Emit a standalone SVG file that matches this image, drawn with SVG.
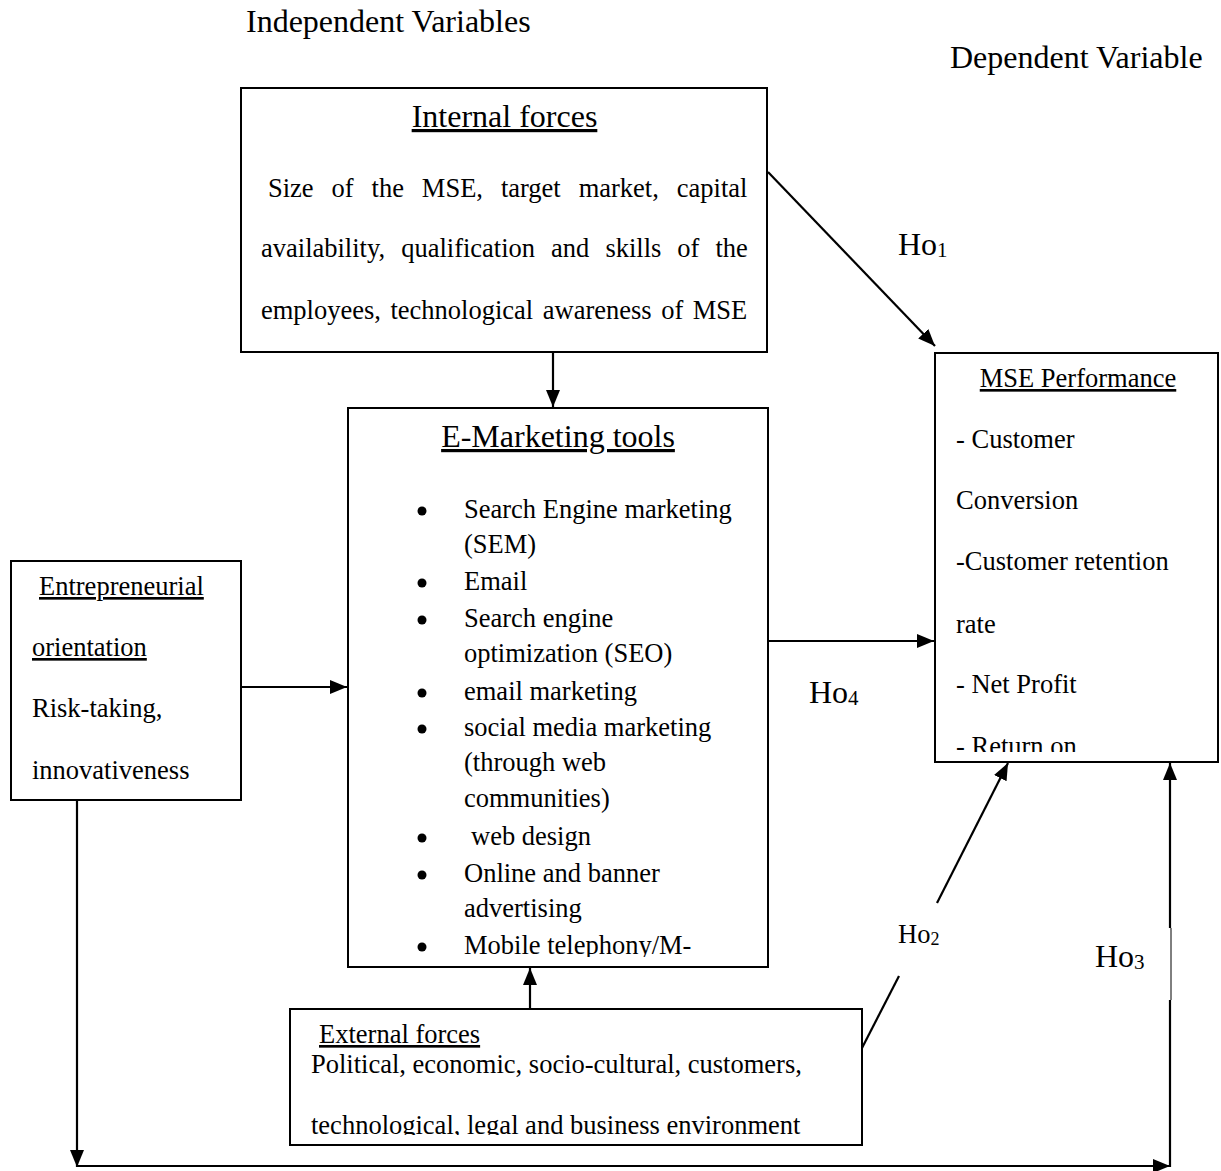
<svg xmlns="http://www.w3.org/2000/svg" width="1221" height="1171" viewBox="0 0 1221 1171">
<style>
text{font-family:"Liberation Serif","Times New Roman",serif;fill:#000}
.h{font-size:32px}
.b{font-size:26.5px}
.u{text-decoration:underline}
.box{fill:#fff;stroke:#000;stroke-width:2}
.con{fill:none;stroke:#000;stroke-width:2.2}
.sub{font-size:21px}
</style>
<defs>
<marker id="ah" markerWidth="18" markerHeight="16" refX="17" refY="8" orient="auto" markerUnits="userSpaceOnUse"><path d="M0,1 L17,8 L0,15 z" fill="#000"/></marker>
<clipPath id="cE"><rect x="349" y="409" width="418" height="548"/></clipPath>
<clipPath id="cM"><rect x="936" y="354" width="281" height="398"/></clipPath>
<clipPath id="cX"><rect x="291" y="1010" width="570" height="125"/></clipPath>
</defs>
<rect width="1221" height="1171" fill="#fff"/>
<text class="h" x="246" y="32">Independent Variables</text>
<text class="h" x="950" y="68">Dependent Variable</text>

<g id="internal">
<rect class="box" x="241" y="88" width="526" height="264"/>
<text class="h u" x="504.5" y="127" text-anchor="middle">Internal forces</text>
<text class="b" x="268" y="197" word-spacing="11.3">Size of the MSE, target market, capital</text>
<text class="b" x="261" y="257" word-spacing="9.4">availability, qualification and skills of the</text>
<text class="b" x="261" y="319" word-spacing="2.9">employees, technological awareness of MSE</text>
</g>

<g id="emarketing">
<rect class="box" x="348" y="408" width="420" height="559"/>
<text class="h u" x="558" y="447" text-anchor="middle">E-Marketing tools</text>
<g clip-path="url(#cE)">
<g fill="#000">
<circle cx="422" cy="511" r="4.5"/>
<circle cx="422" cy="583" r="4.5"/>
<circle cx="422" cy="620" r="4.5"/>
<circle cx="422" cy="693" r="4.5"/>
<circle cx="422" cy="729" r="4.5"/>
<circle cx="422" cy="838" r="4.5"/>
<circle cx="422" cy="875" r="4.5"/>
<circle cx="422" cy="947" r="4.5"/>
</g>
<text class="b" x="464" y="518">Search Engine marketing</text>
<text class="b" x="464" y="553">(SEM)</text>
<text class="b" x="464" y="590">Email</text>
<text class="b" x="464" y="627">Search engine</text>
<text class="b" x="464" y="662">optimization (SEO)</text>
<text class="b" x="464" y="700">email marketing</text>
<text class="b" x="464" y="736">social media marketing</text>
<text class="b" x="464" y="771">(through web</text>
<text class="b" x="464" y="807">communities)</text>
<text class="b" x="471" y="845">web design</text>
<text class="b" x="464" y="882">Online and banner</text>
<text class="b" x="464" y="917">advertising</text>
<text class="b" x="464" y="954">Mobile telephony/M-</text>
</g>
</g>

<g id="entrepreneurial">
<rect class="box" x="11" y="561" width="230" height="239"/>
<text class="b u" x="39" y="595">Entrepreneurial</text>
<text class="b u" x="32" y="656">orientation</text>
<text class="b" x="32" y="717">Risk-taking,</text>
<text class="b" x="32" y="779">innovativeness</text>
</g>

<g id="mse">
<rect class="box" x="935" y="353" width="283" height="409"/>
<text class="b u" x="1078" y="387" text-anchor="middle">MSE Performance</text>
<g clip-path="url(#cM)">
<text class="b" x="956" y="448">- Customer</text>
<text class="b" x="956" y="509">Conversion</text>
<text class="b" x="956" y="570">-Customer retention</text>
<text class="b" x="956" y="633">rate</text>
<text class="b" x="956" y="693">- Net Profit</text>
<text class="b" x="956" y="755">- Return on</text>
</g>
</g>

<g id="external">
<rect class="box" x="290" y="1009" width="572" height="136"/>
<text class="b u" x="319" y="1043">External forces</text>
<g clip-path="url(#cX)">
<text class="b" x="311" y="1073">Political, economic, socio-cultural, customers,</text>
<text class="b" x="311" y="1134">technological, legal and business environment</text>
</g>
</g>

<g id="connectors">
<path class="con" d="M553,352 L553,407" marker-end="url(#ah)"/>
<path class="con" d="M241,687 L347,687" marker-end="url(#ah)"/>
<path class="con" d="M768,641 L934,641" marker-end="url(#ah)"/>
<path class="con" d="M768,172 L935,346" marker-end="url(#ah)"/>
<path class="con" d="M530,1009 L530,968" marker-end="url(#ah)"/>
<path class="con" d="M862,1048 L899,976"/>
<path class="con" d="M937,903 L1008,763" marker-end="url(#ah)"/>
<path class="con" d="M77,800 L77,1167" marker-end="url(#ah)"/>
<path class="con" d="M77,1166 L1170,1166" marker-end="url(#ah)"/>
<path class="con" d="M1170,1167 L1170,1000"/>
<path fill="none" stroke="#000" stroke-width="1" d="M1171,1000 L1171,928"/>
<path class="con" d="M1170,928 L1170,763" marker-end="url(#ah)"/>
</g>

<g id="labels">
<text class="h" x="898" y="255">Ho<tspan class="sub" dy="2">1</tspan></text>
<text class="h" x="809" y="703">Ho<tspan class="sub" dy="2">4</tspan></text>
<text class="b" x="898" y="943">Ho<tspan style="font-size:18px" dy="2">2</tspan></text>
<text class="h" x="1095" y="967">Ho<tspan class="sub" dy="2">3</tspan></text>
</g>
</svg>
